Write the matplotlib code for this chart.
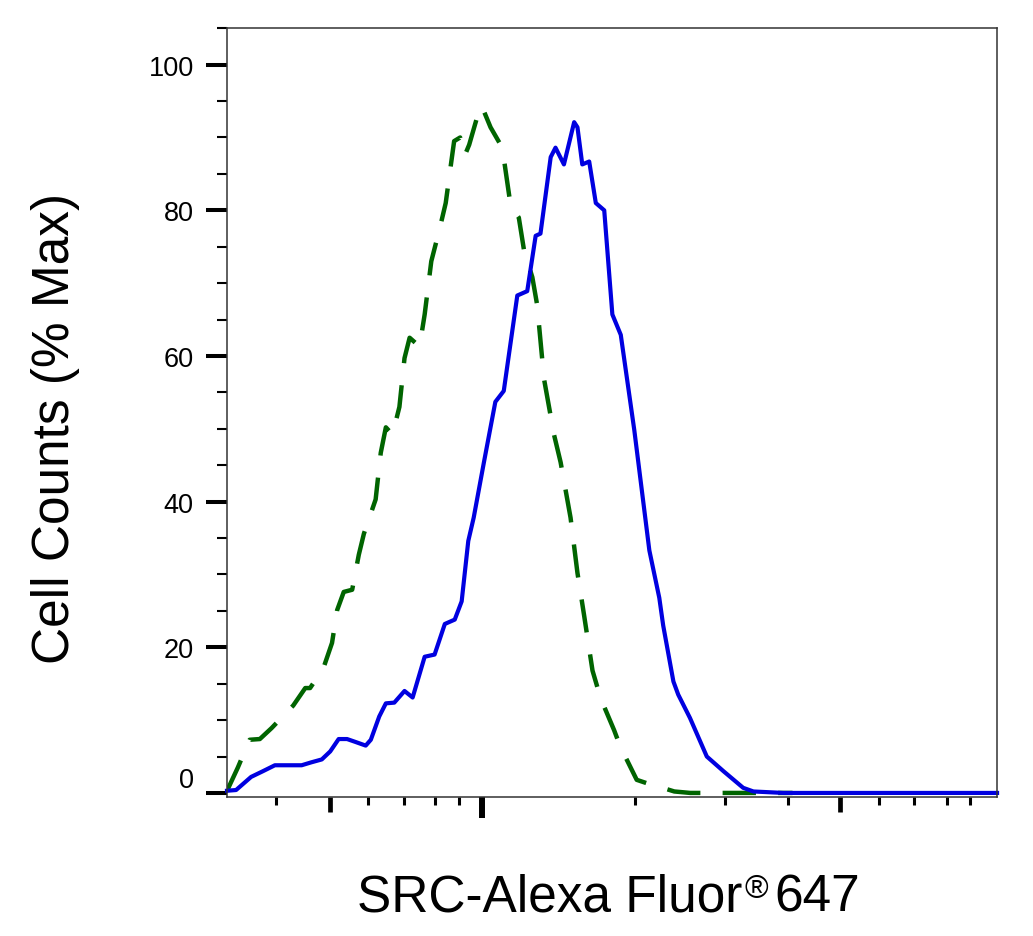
import numpy as np
import matplotlib
matplotlib.use("Agg")
import matplotlib.pyplot as plt

plt.rcParams['font.family'] = ['Liberation Sans', 'DejaVu Sans']

# channel (0-256 display units) and % max
src_x = [0, 3, 8, 12, 15.9, 24.8, 28, 31.5, 34.3, 37.1, 39.9, 42.7, 46.1, 47.8,
         50.6, 52.8, 55.6, 59, 61.7, 65.7, 69, 72.4, 75.7, 78, 80.2, 82, 85.4,
         89.2, 92, 96.5, 99.8, 102.6, 104.2, 107.6, 109.2, 112, 113.7, 115.4,
         116.5, 118.1, 120.4, 122.6, 125.4, 128.1, 130.9, 135.4, 140.4, 143.7,
         145, 148.4, 150, 153.9, 159.5, 165, 171.6, 175, 185, 256]
src_y = [0.3, 0.4, 2.2, 3.0, 3.8, 3.8, 4.2, 4.6, 5.7, 7.4, 7.4, 7.0, 6.5, 7.3,
         10.5, 12.3, 12.4, 14, 13.1, 18.7, 19, 23.2, 23.8, 26.3, 34.6, 37.8, 45.4,
         53.7, 55.2, 68.3, 68.9, 76.5, 76.8, 87.3, 88.6, 86.3, 89.2, 92.1,
         91.4, 86.3, 86.7, 81, 80, 65.7, 62.9, 49.8, 33.3, 26.8,
         23, 15.3, 13.5, 10.3, 5, 3, 0.7, 0.2, 0, 0]

iso_x = [0, 3.6, 7.5, 10.9, 14.8, 22, 26, 27.6, 32, 34.9, 36.6, 38.8, 41.6, 43.8,
         45.5, 49.4, 51.1, 52.8, 55, 57.3, 59, 60.7, 64, 65.7, 67.9, 70.7, 72.7,
         74.5, 75.5, 77.5, 79, 80.5, 84.2, 85.5, 87.6, 91.5, 94.3, 97, 98.7,
         101.5, 103.1, 105.4, 108.7, 110.9, 114.2, 116.5, 118.7, 121.5, 124.2,
         128.7, 130.7, 136.2, 139.8, 144, 148.7, 154, 188]
iso_y = [0.3, 3.5, 7.3, 7.4, 8.9, 12, 14.4, 14.4, 17.1, 20.6, 25.1, 27.6, 27.9, 32.7,
         35.6, 40.3, 46.7, 50.2, 49.2, 53, 59.7, 62.5, 61.3, 65.7, 73, 77.5, 81,
         86.5, 89.5, 90, 87.5, 89, 94.3, 93.5, 91.4, 88.6, 80.6, 79, 74.6,
         70.8, 67, 56.8, 49.2, 45.4, 37.8, 30.2, 24.4, 16.8, 13,
         8.6, 6.4, 1.8, 1.3, 0.8, 0.2, 0, 0]

x_major = [34.1, 84.8, 203.8]
x_minor = [16.4, 46.8, 58.9, 69.0, 77.0, 135.7, 165.6, 186.6, 216.9, 228.3, 239.2, 247.0]
y_major = [0, 20, 40, 60, 80, 100]
y_minor = [5, 10, 15, 25, 30, 35, 45, 50, 55, 65, 70, 75, 85, 90, 95, 105]

fig = plt.figure(figsize=(10.33, 9.37), dpi=100)
ax = fig.add_axes([0.2198, 0.1488, 0.7454, 0.820])

ax.plot(iso_x, iso_y, color='#006400', lw=3.2, linestyle=(0, (7.5, 5)),
        solid_capstyle='butt')
ax.plot(src_x, src_y, color='#0000e0', lw=3.0, clip_on=False)

ax.set_xlim(0, 256)
ax.set_ylim(-0.5, 105)

ax.set_xticks(x_major)
ax.set_xticks(x_minor, minor=True)
ax.set_xticklabels([])
ax.set_yticks(y_major)
ax.set_yticks(y_minor, minor=True)

for s in ax.spines.values():
    s.set_linewidth(1.1)
    s.set_color('#333333')

ax.tick_params(axis='x', which='major', length=11, width=3.4, direction='out')
ax.tick_params(axis='x', which='minor', length=6, width=2.2, direction='out')
ax.tick_params(axis='y', which='major', length=15, width=2.9, direction='out',
               labelsize=19.5, pad=9)
ax.tick_params(axis='y', which='minor', length=7.2, width=1.5, direction='out')

# the long tick in the middle
long_tick = ax.xaxis.get_major_ticks()[1]
long_tick.tick1line.set_markersize(15)
long_tick.tick1line.set_markeredgewidth(4.3)

zero_lab = ax.yaxis.get_major_ticks()[0].label1
zero_lab.set_verticalalignment('bottom')

fig.text(56 / 1033, 1 - 429 / 937, 'Cell Counts (% Max)', rotation=90,
         ha='center', va='center', fontsize=37)

# x label in three pieces so the ® sits small at cap height
t1 = fig.text(357 / 1033, 1 - 912 / 937, 'SRC-Alexa Fluor',
              ha='left', va='baseline', fontsize=37)
t2 = ax.annotate('®', xy=(1, 1), xycoords=t1, xytext=(1.5, -0.5),
                 textcoords='offset points', ha='left', va='top',
                 fontsize=23, annotation_clip=False)
t3 = ax.annotate('647', xy=(1, 0), xycoords=(t2, t1), xytext=(4.5, 0),
                 textcoords='offset points', ha='left', va='bottom',
                 fontsize=37, annotation_clip=False)

fig.savefig('out.png', dpi=100)
